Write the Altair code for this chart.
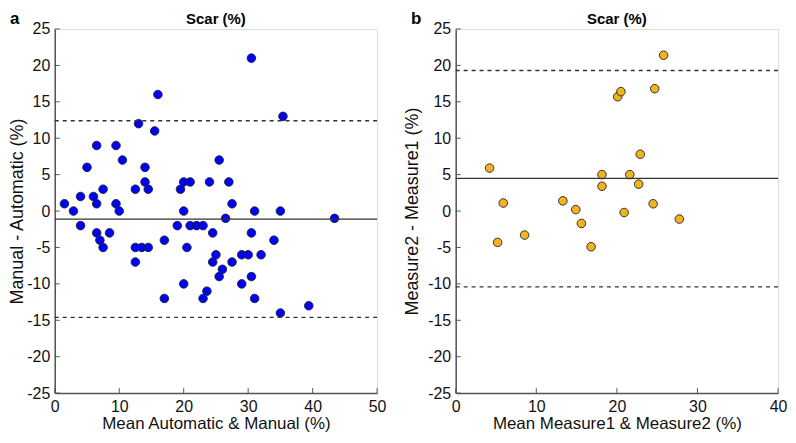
import altair as alt
import pandas as pd

# ---------------- data ----------------
left_x = [1.5, 2.9, 4.0, 4.0, 5.0, 6.0, 6.5, 6.5, 6.5, 7.0, 7.5, 7.5, 8.5, 9.5, 9.5,
          10.0, 10.5, 12.5, 12.5, 12.5, 13.0, 13.5, 14.0, 14.0, 14.5, 14.5, 15.5, 16.0,
          17.0, 17.0, 19.0, 19.5, 20.0, 20.0, 20.0, 20.5, 21.0, 21.0, 22.0, 23.0, 23.0,
          23.6, 24.0, 24.5, 24.5, 25.0, 25.5, 25.5, 26.0, 26.5, 27.0, 27.5, 27.5, 29.0,
          29.0, 30.0, 30.5, 30.5, 30.5, 31.0, 31.0, 32.0, 34.0, 35.4, 35.0, 35.0, 39.4, 43.4]
left_y = [1, 0, 2, -2, 6, 2, 1, 9, -3, -4, 3, -5, -3, 9, 1,
          0, 7, 3, -5, -7, 12, -5, 6, 4, 3, -5, 11, 16,
          -4, -12, -2, 3, 4, 0, -10, -5, 4, -2, -2, -2, -12,
          -11, 4, -3, -7, -6, 7, -9, -8, -1, 4, 1, -7, -6,
          -10, -6, 21, -3, -9, 0, -12, -6, -4, 13, 0, -14, -13, -1]

right_x = [4.2, 5.9, 5.2, 8.55, 13.3, 14.9, 15.6, 16.8, 18.15, 18.15,
           20.1, 20.5, 20.9, 21.6, 22.7, 22.9, 24.5, 24.7, 25.8, 27.75]
right_y = [5.9, 1.1, -4.3, -3.3, 1.4, 0.2, -1.7, -4.9, 5.0, 3.4,
           15.7, 16.4, -0.2, 5.0, 3.7, 7.8, 1.0, 16.8, 21.4, -1.1]

left_mean, left_upper, left_lower = -1.1, 12.4, -14.6
right_mean, right_upper, right_lower = 4.5, 19.3, -10.4

y_ticks = [-25, -20, -15, -10, -5, 0, 5, 10, 15, 20, 25]
left_x_ticks = [0, 10, 20, 30, 40, 50]
right_x_ticks = [0, 10, 20, 30, 40]

FONT = "Liberation Sans"
H = 366
AX = "#555555"


def panel(xs, ys, fill, mean, upper, lower, xmax, xticks, xtitle, ytitle, letter, W, ytx):
    xscale = alt.Scale(domain=[0, xmax], nice=False, zero=False)
    yscale = alt.Scale(domain=[-25, 25], nice=False, zero=False)

    xaxis = alt.Axis(values=xticks, ticks=False, tickSize=0, grid=False, title=xtitle,
                     labelExpr="'' + datum.value",
                     labelFont=FONT, labelFontSize=16, labelColor="#111111",
                     labelBaseline="alphabetic", labelPadding=18, labelFlush=False,
                     titleFont=FONT, titleFontSize=17, titleFontWeight="normal",
                     titleColor="#111111", titleBaseline="alphabetic",
                     titleX=W / 2, titleY=36, titleAlign="center",
                     domainColor=AX, domainWidth=1.5)
    yaxis = alt.Axis(values=y_ticks, ticks=False, tickSize=0, grid=False, title=ytitle,
                     labelExpr="'' + datum.value",
                     labelFont=FONT, labelFontSize=16, labelColor="#111111",
                     labelPadding=5, labelFlush=False,
                     titleFont=FONT, titleFontSize=18, titleFontWeight="normal",
                     titleColor="#111111", titleAngle=270, titleBaseline="alphabetic",
                     titleX=ytx, titleY=H / 2, titleAlign="center",
                     domainColor=AX, domainWidth=1.5)

    pts = pd.DataFrame({"x": xs, "y": ys})
    points = alt.Chart(pts).mark_circle(size=74, color=fill, opacity=1,
                                        stroke="#222222", strokeWidth=0.9).encode(
        x=alt.X("x:Q", scale=xscale, axis=xaxis),
        y=alt.Y("y:Q", scale=yscale, axis=yaxis),
    )

    mean_df = pd.DataFrame({"v": [mean]})
    loa_df = pd.DataFrame({"v": [upper, lower]})
    mean_rule = alt.Chart(mean_df).mark_rule(color="#333333", strokeWidth=1.3).encode(
        y=alt.Y("v:Q", scale=yscale, axis=yaxis))
    loa_rule = alt.Chart(loa_df).mark_rule(color="#333333", strokeWidth=1.3,
                                           strokeDash=[4, 4]).encode(
        y=alt.Y("v:Q", scale=yscale, axis=yaxis))

    xt = pd.DataFrame({"t": xticks})
    yt = pd.DataFrame({"t": y_ticks})
    xtick_marks = alt.Chart(xt).mark_rule(color=AX, strokeWidth=1).encode(
        x=alt.X("t:Q", scale=xscale, axis=xaxis),
        y=alt.value(H), y2=alt.value(H - 5))
    ytick_marks = alt.Chart(yt).mark_rule(color=AX, strokeWidth=1).encode(
        y=alt.Y("t:Q", scale=yscale, axis=yaxis),
        x=alt.value(0), x2=alt.value(5))

    letter_df = pd.DataFrame({"t": [letter]})
    letter_mark = alt.Chart(letter_df).mark_text(
        font=FONT, fontSize=17, fontWeight="bold", align="left",
        baseline="alphabetic", color="#000000").encode(
        text="t:N", x=alt.value(-45), y=alt.value(-5))

    title_df = pd.DataFrame({"t": ["Scar (%)"]})
    title_mark = alt.Chart(title_df).mark_text(
        font=FONT, fontSize=15, fontWeight="bold", align="center",
        baseline="alphabetic", color="#000000").encode(
        text="t:N", x=alt.value(W / 2), y=alt.value(-5))

    return alt.layer(points, mean_rule, loa_rule, xtick_marks, ytick_marks,
                     letter_mark, title_mark).properties(width=W, height=H)


left = panel(left_x, left_y, "#0000FF", left_mean, left_upper, left_lower, 50,
             left_x_ticks, "Mean Automatic & Manual (%)", "Manual - Automatic (%)", "a", 324, -32)
right = panel(right_x, right_y, "#F2B321", right_mean, right_upper, right_lower, 40,
              right_x_ticks, "Mean Measure1 & Measure2 (%)", "Measure2 - Measure1 (%)", "b", 324, -38)

chart = alt.hconcat(left, right, spacing=16).properties(padding=0).configure_view(
    strokeWidth=0).configure(background="white")

chart.save("out.html", embed_options={"renderer": "svg", "actions": False})
